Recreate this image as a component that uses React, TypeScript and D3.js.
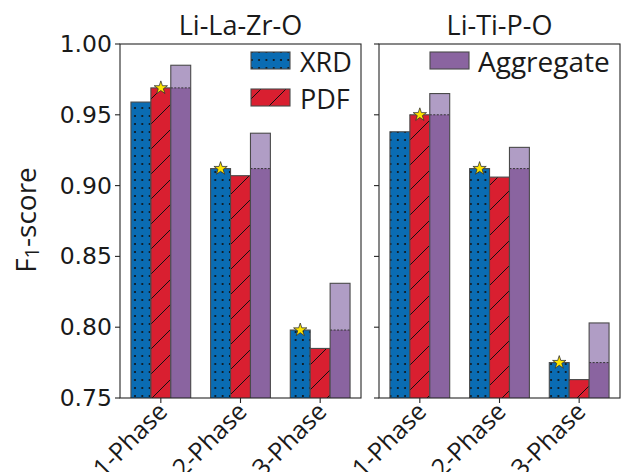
import React from 'react';
import * as d3 from 'd3';

// phases on the x axis
const categories = ["1-Phase", "2-Phase", "3-Phase"];
const systems = ["Li-La-Zr-O", "Li-Ti-P-O"];

// F1 scores
const xrdLLZO = [0.959, 0.912, 0.798];
const pdfLLZO = [0.969, 0.907, 0.785];
const aggLLZO = [0.985, 0.937, 0.831];

const xrdLTPO = [0.938, 0.912, 0.775];
const pdfLTPO = [0.950, 0.906, 0.763];
const aggLTPO = [0.965, 0.927, 0.803];

const yTicks = [0.75, 0.80, 0.85, 0.90, 0.95, 1.00];

const seriesBySystem = [
  { xrd: xrdLLZO, pdf: pdfLLZO, agg: aggLLZO },
  { xrd: xrdLTPO, pdf: pdfLTPO, agg: aggLTPO },
];

const BLUE = "#0a6cb3";
const RED = "#d91f30";
const PURPLE = "#8a64a0";
const LIGHT_PURPLE = "#b09dc5";
const EDGE = "#4a4a4a";
const AXIS = "#262626";
const SANS = "'Open Sans', sans-serif";
const DEJAVU = "'DejaVu Sans', sans-serif";

const W = 621, H = 472;
const panelX = [120, 379];
const panelW = 241;
const top = 44, bottom = 398;
const barW = 0.25;

const y = d3.scaleLinear().domain([0.75, 1.0]).range([bottom, top]);
const star = d3.symbol().type(d3.symbolStar).size(55)();

function Panel({ idx }: { idx: number }) {
  const x0 = panelX[idx];
  const x = d3.scaleLinear().domain([-0.5125, 2.5125]).range([x0, x0 + panelW]);
  const s = seriesBySystem[idx];
  const bw = x(barW) - x(0);
  const clipId = `clip${idx}`;

  return (
    <g>
      <defs>
        <clipPath id={clipId}>
          <rect x={x0} y={top} width={panelW} height={bottom - top} />
        </clipPath>
      </defs>
      <g clipPath={`url(#${clipId})`}>
        {categories.map((c, i) => {
          const best = Math.max(s.xrd[i], s.pdf[i]);
          const xr = x(i - barW), xp = x(i), xa = x(i + barW);
          return (
            <g key={c}>
              <rect x={xr - bw / 2} y={y(s.xrd[i])} width={bw} height={bottom - y(s.xrd[i]) + 2} fill={BLUE} />
              <rect x={xr - bw / 2} y={y(s.xrd[i])} width={bw} height={bottom - y(s.xrd[i]) + 2} fill="url(#dots)" stroke={EDGE} strokeWidth={1.1} />
              <rect x={xp - bw / 2} y={y(s.pdf[i])} width={bw} height={bottom - y(s.pdf[i]) + 2} fill={RED} />
              <rect x={xp - bw / 2} y={y(s.pdf[i])} width={bw} height={bottom - y(s.pdf[i]) + 2} fill="url(#hatch)" stroke={EDGE} strokeWidth={1.1} />
              <rect x={xa - bw / 2} y={y(s.agg[i])} width={bw} height={bottom - y(s.agg[i]) + 2} fill={LIGHT_PURPLE} />
              <rect x={xa - bw / 2} y={y(best)} width={bw} height={bottom - y(best) + 2} fill={PURPLE} />
              <line x1={xa - bw / 2} x2={xa + bw / 2} y1={y(best)} y2={y(best)} stroke="#333" strokeWidth={1} strokeDasharray="2,1.5" />
              <rect x={xa - bw / 2} y={y(s.agg[i])} width={bw} height={bottom - y(s.agg[i]) + 2} fill="none" stroke={EDGE} strokeWidth={1.1} />
              <path d={star} transform={`translate(${s.xrd[i] >= s.pdf[i] ? xr : xp},${y(best)})`} fill="#ffe600" stroke="#333" strokeWidth={0.8} />
            </g>
          );
        })}
      </g>
      {/* frame */}
      <rect x={x0} y={top} width={panelW} height={bottom - top} fill="none" stroke={AXIS} strokeWidth={1.1} />
      {/* y ticks */}
      {yTicks.map(t => (
        <g key={t}>
          <line x1={x0 - 5} x2={x0} y1={y(t)} y2={y(t)} stroke={AXIS} strokeWidth={1.1} />
          {idx === 0 && (
            <text x={x0 - 8} y={y(t)} textAnchor="end" dominantBaseline="central" fontFamily={DEJAVU} fontSize={23.5} fill="#1a1a1a">
              {t.toFixed(2)}
            </text>
          )}
        </g>
      ))}
      {/* x ticks */}
      {categories.map((c, i) => (
        <g key={c}>
          <line x1={x(i)} x2={x(i)} y1={bottom} y2={bottom + 5} stroke={AXIS} strokeWidth={1.1} />
          <text transform={`translate(${x(i) + 8},${413}) rotate(-45)`} textAnchor="end" fontFamily={SANS} fontSize={25} fill="#1a1a1a">
            {c}
          </text>
        </g>
      ))}
      <text x={x0 + panelW / 2} y={35} textAnchor="middle" fontFamily={SANS} fontSize={27} fill="#1a1a1a">
        {systems[idx]}
      </text>
    </g>
  );
}

export default function App() {
  return (
    <svg width={W} height={H} style={{ position: 'absolute', left: 0, top: 0, background: '#fff' }}>
      <defs>
        <pattern id="dots" patternUnits="userSpaceOnUse" width={7.3} height={8}>
          <circle cx={3.6} cy={4} r={1.1} fill="#111" />
        </pattern>
        <pattern id="hatch" patternUnits="userSpaceOnUse" width={25} height={25}>
          <path d="M0,25 L25,0 M-5,5 L5,-5 M20,30 L30,20" stroke="#111" strokeWidth={1} />
        </pattern>
      </defs>
      <Panel idx={0} />
      <Panel idx={1} />

      {/* legends */}
      <rect x={251} y={52} width={39} height={17} fill={BLUE} />
      <rect x={251} y={52} width={39} height={17} fill="url(#dots)" stroke={EDGE} strokeWidth={1.1} />
      <text x={300} y={61} dominantBaseline="central" fontFamily={SANS} fontSize={27} fill="#1a1a1a">XRD</text>
      <rect x={251} y={89} width={39} height={17} fill={RED} />
      <rect x={251} y={89} width={39} height={17} fill="url(#hatch)" stroke={EDGE} strokeWidth={1.1} />
      <text x={300} y={98} dominantBaseline="central" fontFamily={SANS} fontSize={27} fill="#1a1a1a">PDF</text>
      <rect x={430} y={52} width={39} height={17} fill={PURPLE} stroke={EDGE} strokeWidth={1.1} />
      <text x={478} y={61} dominantBaseline="central" fontFamily={SANS} fontSize={28} fill="#1a1a1a">Aggregate</text>

      <text transform="translate(25,220) rotate(-90)" textAnchor="middle" dominantBaseline="central" fontFamily={SANS} fontSize={28} fill="#1a1a1a">
        F<tspan fontSize={20} dy={6}>1</tspan><tspan dy={-6}>-score</tspan>
      </text>
    </svg>
  );
}
